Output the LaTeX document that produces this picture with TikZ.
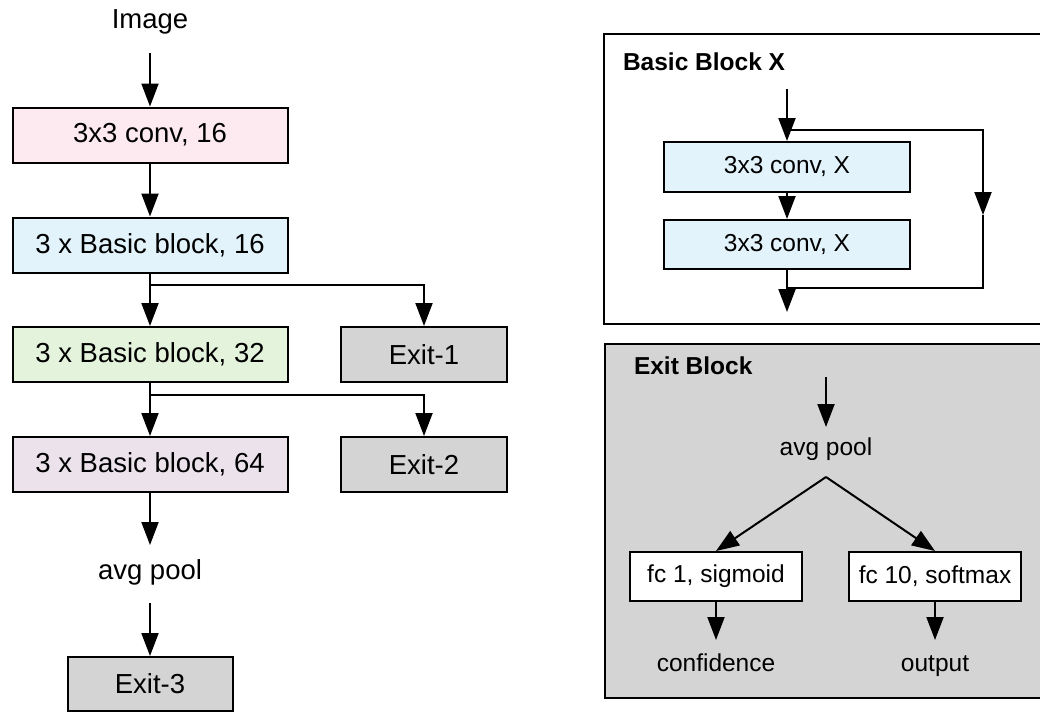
\documentclass[tikz,border=0pt]{standalone}
\usepackage{fontspec}
\setmainfont{Liberation Sans}
\usetikzlibrary{arrows.meta}
\definecolor{convpink}{HTML}{FCEAF0}
\definecolor{bbblue}{HTML}{E2F3FB}
\definecolor{bbgreen}{HTML}{E4F3DB}
\definecolor{bblav}{HTML}{EBE2EC}
\definecolor{exitgray}{HTML}{D4D4D4}
\begin{document}
\begin{tikzpicture}[x=1pt, y=-1pt, line width=2pt,
  arr/.style={-{Triangle[length=23pt,width=17pt]}},
  bigtxt/.style={font=\fontsize{27.5}{33}\selectfont, inner sep=0pt},
  smalltxt/.style={font=\fontsize{24.5}{29}\selectfont, inner sep=0pt},
  layer/.style={draw, bigtxt, minimum width=275pt, minimum height=55pt},
  exitbox/.style={draw, fill=exitgray, bigtxt, minimum width=166pt, minimum height=55pt},
  convx/.style={draw, fill=bbblue, smalltxt, minimum width=246pt, minimum height=50pt},
  fcbox/.style={draw, fill=white, smalltxt, minimum width=172pt, minimum height=49pt},
  panel/.style={draw},
  paneltitle/.style={font=\bfseries\fontsize{24.5}{29}\selectfont, anchor=west, inner sep=0pt}]

\useasboundingbox (0,0) rectangle (1040,713);
\clip (0,0) rectangle (1040,713);

% ---------- main network ----------
\node[bigtxt] (img) at (150,22) {Image};
\node[layer, fill=convpink] (conv16) at (150,135) {3x3 conv, 16};
\node[layer, fill=bbblue]   (bb16)   at (150,245) {3 x Basic block, 16};
\node[layer, fill=bbgreen]  (bb32)   at (150,354.5) {3 x Basic block, 32};
\node[layer, fill=bblav]    (bb64)   at (150,464.5) {3 x Basic block, 64};
\node[exitbox] (exit1) at (424,354.5) {Exit-1};
\node[exitbox] (exit2) at (424,464.5) {Exit-2};
\node[bigtxt] (pool) at (150,572) {avg pool};
\node[exitbox, minimum width=165pt, minimum height=54pt] (exit3) at (150,684) {Exit-3};

\draw[arr] ([yshift=-31pt]img.center) -- (conv16.north);
\draw[arr] (conv16.south) -- (bb16.north);
\draw[arr] (bb16.south) -- (bb32.north);
\draw[arr] (bb16.south) -- ++(0,11) -| (exit1.north);
\draw[arr] (bb32.south) -- (bb64.north);
\draw[arr] (bb32.south) -- ++(0,12) -| (exit2.north);
\draw[arr] (bb64.south) -- ([yshift=27pt]pool.center);
\draw[arr] ([yshift=-31pt]pool.center) -- (exit3.north);

% ---------- basic block panel ----------
\draw[panel, fill=white] (604,34) rectangle (1060,324);
\node[paneltitle] (bbtitle) at (622,62) {Basic Block X};
\node[convx] (cx1) at (787,167) {3x3 conv, X};
\node[convx, minimum height=49pt] (cx2) at (787,244.5) {3x3 conv, X};
\coordinate (bin)   at (787,89);
\coordinate (split) at (787,130);
\coordinate (skip)  at (983,215);
\coordinate (merge) at (787,288);
\coordinate (bout)  at (787,312);

\draw[arr] (bin) -- (cx1.north);
\draw[arr] (cx1.south) -- (cx2.north);
\draw[arr] (cx2.south) -- (bout);
\draw[arr] (split) -| (skip);
\draw (skip) |- (merge);

% ---------- exit block panel ----------
\draw[panel, fill=exitgray] (605,344) rectangle (1060,698);
\node[paneltitle] (extitle) at (633,366) {Exit Block};
\node[smalltxt] (epool) at (826,449) {avg pool};
\node[fcbox] (fc1)  at (716,576.5) {fc 1, sigmoid};
\node[fcbox] (fc10) at (935,576.5) {fc 10, softmax};
\node[smalltxt, anchor=base] (conf) at (716,671) {confidence};
\node[smalltxt, anchor=base] (out)  at (935,671) {output};
\coordinate (ein)  at (826,377);
\coordinate (apex) at (826,477);

\draw[arr] (ein) -- ([yshift=22pt]epool.center);
\draw[arr] (apex) -- (fc1.north);
\draw[arr] (apex) -- (fc10.north);
\draw[arr] (fc1.south) -- ([yshift=31pt]conf.base);
\draw[arr] (fc10.south) -- ([yshift=31pt]out.base);
\end{tikzpicture}
\end{document}
